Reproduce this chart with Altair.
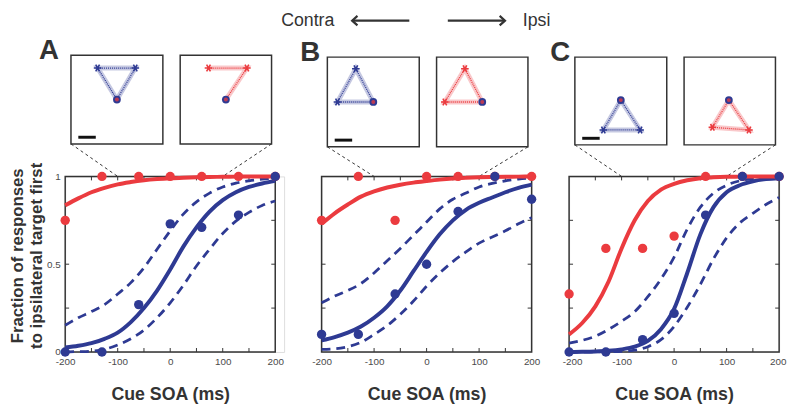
import altair as alt
import pandas as pd

# ---------------- data ----------------
SOA = [-200, -130, -60, 0, 60, 130, 200]
FIT_SOA = [-200, -175, -150, -125, -100, -75, -50, -25, 0, 25, 50, 75, 100, 125, 150, 175, 200]
X_TICKS = [-150, -100, -50, 0, 50, 100, 150]
Y_TICKS = [0.25, 0.5, 0.75]
X_LABELS = [-200, -100, 0, 100, 200]
Y_LABELS = [0, 0.5, 1]

A_RED_PTS = [0.75, 1, 1, 1, 1, 1, 1]
A_BLUE_PTS = [0, 0, 0.27, 0.73, 0.71, 0.78, 1]
A_RED_FIT = [0.835, 0.875, 0.91, 0.935, 0.955, 0.968, 0.978, 0.985, 0.99, 0.993, 0.995, 0.997, 0.998, 0.999, 1, 1, 1]
A_BLUE_FIT = [0.025, 0.035, 0.05, 0.075, 0.11, 0.17, 0.25, 0.35, 0.47, 0.60, 0.71, 0.80, 0.865, 0.91, 0.94, 0.96, 0.975]
A_BLUE_UP = [0.152, 0.195, 0.23, 0.27, 0.33, 0.395, 0.48, 0.585, 0.69, 0.785, 0.855, 0.905, 0.94, 0.962, 0.975, 0.984, 0.99]
A_BLUE_LO = [0.0, 0.002, 0.005, 0.015, 0.04, 0.075, 0.125, 0.195, 0.28, 0.38, 0.49, 0.585, 0.675, 0.745, 0.795, 0.835, 0.86]

B_RED_PTS = [0.75, 1, 0.75, 1, 1, 1, 1]
B_BLUE_PTS = [0.10, 0.10, 0.33, 0.50, 0.80, 1, 0.87]
B_RED_FIT = [0.73, 0.79, 0.84, 0.885, 0.915, 0.937, 0.953, 0.965, 0.974, 0.982, 0.988, 0.992, 0.995, 0.997, 0.998, 0.999, 1.0]
B_BLUE_FIT = [0.066, 0.085, 0.11, 0.145, 0.195, 0.26, 0.35, 0.46, 0.57, 0.67, 0.75, 0.81, 0.85, 0.88, 0.91, 0.935, 0.953]
B_BLUE_UP = [0.28, 0.318, 0.35, 0.39, 0.45, 0.52, 0.59, 0.665, 0.74, 0.815, 0.87, 0.905, 0.94, 0.96, 0.975, 0.985, 0.99]
B_BLUE_LO = [0.015, 0.018, 0.03, 0.055, 0.10, 0.15, 0.215, 0.29, 0.375, 0.45, 0.515, 0.57, 0.62, 0.655, 0.69, 0.73, 0.765]

C_RED_PTS = [0.33, 0.59, 0.59, 0.66, 1, 1, 1]
C_BLUE_PTS = [0, 0, 0.07, 0.22, 0.78, 1, 1]
C_RED_FIT = [0.10, 0.165, 0.26, 0.40, 0.59, 0.75, 0.86, 0.925, 0.958, 0.978, 0.99, 0.995, 0.998, 0.999, 1, 1, 1]
C_BLUE_FIT = [0.0, 0.001, 0.003, 0.007, 0.015, 0.03, 0.063, 0.13, 0.245, 0.45, 0.67, 0.825, 0.91, 0.95, 0.972, 0.985, 0.99]
C_BLUE_UP = [0.05, 0.066, 0.09, 0.128, 0.175, 0.23, 0.315, 0.415, 0.54, 0.70, 0.825, 0.905, 0.95, 0.975, 0.988, 0.995, 1.0]
C_BLUE_LO = [0.0, 0.0, 0.001, 0.002, 0.004, 0.01, 0.03, 0.07, 0.145, 0.255, 0.385, 0.53, 0.65, 0.735, 0.79, 0.84, 0.88]

# inset trajectories (relative coordinates inside each inset box; first point = start circle)
A_BLUE_U = [0.5, 0.29, 0.70, 0.5]
A_BLUE_V = [0.5, 0.855, 0.855, 0.5]
A_RED_U = [0.5, 0.73, 0.31]
A_RED_V = [0.5, 0.855, 0.855]
B_BLUE_U = [0.5, 0.31, 0.11, 0.5]
B_BLUE_V = [0.5, 0.87, 0.5, 0.5]
B_RED_U = [0.5, 0.31, 0.09, 0.5]
B_RED_V = [0.5, 0.87, 0.5, 0.5]
C_BLUE_U = [0.5, 0.71, 0.31, 0.5]
C_BLUE_V = [0.51, 0.17, 0.17, 0.51]
C_RED_U = [0.49, 0.71, 0.31, 0.49]
C_RED_V = [0.51, 0.17, 0.2, 0.51]
SCALE_BAR_U = [0.08, 0.27]
SCALE_BAR_V = 0.075

# inset placement: x in SOA units, y in px above the panel's top edge
INSET_X = [[-189, -14], [19, 193]]
ZOOM_X = [-100, 100]
A_INSET_Y = [33, 123]
B_INSET_Y = [30, 121]
C_INSET_Y = [32, 121]
TOP_PX = 167

RED = "#EB3B3F"
BLUE = "#2E3A93"
INK = "#333333"
LAB = "#4a4a4a"
W, H = 213, 178
STAR = "M-1,0L1,0M-0.5,-0.87L0.5,0.87M-0.5,0.87L0.5,-0.87"


def up(px):
    """px above the plot's top edge -> y data value"""
    return 1 + px / H


def panel(letter, lpos, inset_y, blue_u, blue_v, red_u, red_v,
          red_pts, blue_pts, red_fit, blue_fit, dash_up, dash_lo,
          show_y=False, extra_px=0, header=False, flush=False):
    xmax = 200 + extra_px * 400 / W
    width = W + extra_px
    xs = alt.Scale(domain=[-200, xmax], nice=False)
    ys = alt.Scale(domain=[0, 1], nice=False)
    ax_kw = dict(values=X_LABELS, labelExpr="'' + datum.value", ticks=False, domain=False, grid=False,
                 labelPadding=5, labelFontSize=10, labelColor=LAB, titleFontSize=18,
                 titleFontWeight="bold", titleColor=INK, titlePadding=19, titleX=W / 2)
    if flush:
        ax_kw.update(labelFlush=True, labelFlushOffset=7)
    else:
        ax_kw.update(labelFlush=False)
    X = alt.X("soa:Q", scale=xs, axis=alt.Axis(**ax_kw), title="Cue SOA (ms)")
    if show_y:
        y_axis = alt.Axis(values=Y_LABELS, labelExpr="'' + datum.value", ticks=False, domain=False,
                          grid=False, labelPadding=5, labelFontSize=10, labelColor=LAB,
                          titleFontSize=17, titleFontWeight="bold", titleColor=INK, titlePadding=1,
                          titleLineHeight=19, titleY=80)
        Y = alt.Y("p:Q", scale=ys, axis=y_axis,
                  title=["Fraction of responses", "to ipsilateral target first"])
    else:
        Y = alt.Y("p:Q", scale=ys, axis=None)
    col = alt.Color("c:N", scale=alt.Scale(domain=["blue", "red"], range=[BLUE, RED]), legend=None)

    # ---------- insets above the panel ----------
    y0, y1 = inset_y

    def place(us, vs, k):
        a, b = INSET_X[k]
        return [a + u * (b - a) for u in us], [up(y0 + v * (y1 - y0)) for v in vs]

    bx, by = place(blue_u, blue_v, 0)
    rx, ry = place(red_u, red_v, 1)
    paths = pd.DataFrame({"soa": bx + rx, "p": by + ry,
                          "i": list(range(len(bx))) + list(range(len(rx))),
                          "c": ["blue"] * len(bx) + ["red"] * len(rx)})
    stars = pd.DataFrame({"soa": bx[1:3] + rx[1:3], "p": by[1:3] + ry[1:3],
                          "c": ["blue"] * 2 + ["red"] * 2})
    starts = pd.DataFrame({"soa": [bx[0], rx[0]], "p": [by[0], ry[0]]})
    sbx, sby = place(SCALE_BAR_U, [SCALE_BAR_V] * 2, 0)
    bar = pd.DataFrame({"soa": [sbx[0]], "soa2": [sbx[1]], "p": [sby[0]]})
    boxes = pd.DataFrame({"soa": [INSET_X[0][0], INSET_X[1][0]], "soa2": [INSET_X[0][1], INSET_X[1][1]],
                          "p": [up(y0)] * 2, "p2": [up(y1)] * 2})
    conn = pd.DataFrame({"soa": [INSET_X[0][0], INSET_X[1][1]], "p": [up(y0)] * 2,
                         "soa2": ZOOM_X, "p2": [1, 1]})
    let = pd.DataFrame({"soa": [lpos[0]], "p": [up(lpos[1])], "t": [letter]})

    # ---------- panel frame, ticks, data ----------
    dx4 = 4 * 400 / W
    dy4 = 4 / H
    frame = pd.DataFrame({"soa": [-200], "soa2": [200], "p": [0], "p2": [1]})
    xt_top = pd.DataFrame({"soa": X_TICKS, "p": [1] * 7, "p2": [1 - dy4] * 7})
    xt_bot = pd.DataFrame({"soa": X_TICKS, "p": [0] * 7, "p2": [dy4] * 7})
    yt_l = pd.DataFrame({"p": Y_TICKS, "soa": [-200] * 3, "soa2": [-200 + dx4] * 3})
    yt_r = pd.DataFrame({"p": Y_TICKS, "soa": [200] * 3, "soa2": [200 - dx4] * 3})
    dashed = pd.DataFrame({"soa": FIT_SOA * 2, "p": dash_up + dash_lo, "k": ["up"] * 17 + ["lo"] * 17})
    bfit = pd.DataFrame({"soa": FIT_SOA, "p": blue_fit})
    rfit = pd.DataFrame({"soa": FIT_SOA, "p": red_fit})
    rp = pd.DataFrame({"soa": SOA, "p": red_pts})
    bp = pd.DataFrame({"soa": SOA, "p": blue_pts})

    layers = [
        alt.Chart(conn).mark_rule(strokeDash=[3, 3], strokeWidth=1, color=INK).encode(
            x=X, y=Y, x2="soa2:Q", y2="p2:Q"),
        alt.Chart(boxes).mark_rect(fill="white", stroke=INK, strokeWidth=1.5).encode(
            x=X, x2="soa2:Q", y=Y, y2="p2:Q"),
        alt.Chart(paths).mark_line(strokeWidth=5, opacity=0.28).encode(
            x=X, y=Y, color=col, detail="c:N", order="i:Q"),
        alt.Chart(paths).mark_line(strokeWidth=1.3, strokeDash=[1, 1]).encode(
            x=X, y=Y, color=col, detail="c:N", order="i:Q"),
        alt.Chart(stars).mark_point(shape=STAR, filled=False, strokeWidth=1.6, size=60, opacity=1).encode(
            x=X, y=Y, color=col),
        alt.Chart(starts).mark_circle(size=62, color=BLUE, opacity=1).encode(x=X, y=Y),
        alt.Chart(starts).mark_circle(size=16, color=RED, opacity=0.75).encode(x=X, y=Y),
        alt.Chart(bar).mark_rule(strokeWidth=3, color="#111111").encode(x=X, x2="soa2:Q", y=Y),
        alt.Chart(let).mark_text(fontSize=28, fontWeight="bold", color=INK, align="center",
                                 baseline="middle").encode(x=X, y=Y, text="t:N"),
        alt.Chart(frame).mark_rect(fillOpacity=0, stroke=INK, strokeWidth=1.5).encode(
            x=X, x2="soa2:Q", y=Y, y2="p2:Q"),
        alt.Chart(xt_top).mark_rule(color=INK, strokeWidth=1).encode(x=X, y=Y, y2="p2:Q"),
        alt.Chart(xt_bot).mark_rule(color=INK, strokeWidth=1).encode(x=X, y=Y, y2="p2:Q"),
        alt.Chart(yt_l).mark_rule(color=INK, strokeWidth=1).encode(x=X, x2="soa2:Q", y=Y),
        alt.Chart(yt_r).mark_rule(color=INK, strokeWidth=1).encode(x=X, x2="soa2:Q", y=Y),
        alt.Chart(dashed).mark_line(strokeDash=[9, 6], strokeWidth=2.8, color=BLUE,
                                    interpolate="monotone").encode(x=X, y=Y, detail="k:N"),
        alt.Chart(bfit).mark_line(strokeWidth=4, color=BLUE, interpolate="monotone").encode(x=X, y=Y),
        alt.Chart(rfit).mark_line(strokeWidth=4, color=RED, interpolate="monotone").encode(x=X, y=Y),
        alt.Chart(rp).mark_circle(size=90, color=RED, opacity=1).encode(x=X, y=Y),
        alt.Chart(bp).mark_circle(size=90, color=BLUE, opacity=1).encode(x=X, y=Y),
    ]
    if header:
        hy = up(TOP_PX)
        ay = up(TOP_PX - 9)
        contra = pd.DataFrame({"soa": [-175.6], "p": [hy], "t": ["Contra"]})
        ipsi = pd.DataFrame({"soa": [183.1], "p": [hy], "t": ["Ipsi"]})
        arrows = pd.DataFrame({"soa": [-141.8, 40.4], "soa2": [-32.9, 149.3], "p": [ay, ay]})
        head_l = pd.DataFrame({"soa": [-141.8], "p": [ay]})
        head_r = pd.DataFrame({"soa": [149.3], "p": [ay]})
        layers += [
            alt.Chart(contra).mark_text(fontSize=18, color=INK, align="right", baseline="top").encode(
                x=X, y=Y, text="t:N"),
            alt.Chart(ipsi).mark_text(fontSize=18, color=INK, align="left", baseline="top").encode(
                x=X, y=Y, text="t:N"),
            alt.Chart(arrows).mark_rule(strokeWidth=2.2, color=INK).encode(x=X, x2="soa2:Q", y=Y),
            alt.Chart(head_l).mark_point(shape="M0.9,-0.8L0,0L0.9,0.8", filled=False, strokeWidth=2.2,
                                         size=144, color=INK, opacity=1).encode(x=X, y=Y),
            alt.Chart(head_r).mark_point(shape="M-0.9,-0.8L0,0L-0.9,0.8", filled=False, strokeWidth=2.2,
                                         size=144, color=INK, opacity=1).encode(x=X, y=Y),
        ]
    return alt.layer(*layers).properties(width=width, height=H)


pA = panel("A", (-231, 127.5), A_INSET_Y, A_BLUE_U, A_BLUE_V, A_RED_U, A_RED_V,
           A_RED_PTS, A_BLUE_PTS, A_RED_FIT, A_BLUE_FIT, A_BLUE_UP, A_BLUE_LO,
           show_y=True, extra_px=9)
pB = panel("B", (-221.6, 125), B_INSET_Y, B_BLUE_U, B_BLUE_V, B_RED_U, B_RED_V,
           B_RED_PTS, B_BLUE_PTS, B_RED_FIT, B_BLUE_FIT, B_BLUE_UP, B_BLUE_LO, header=True)
pC = panel("C", (-216.9, 125), C_INSET_Y, C_BLUE_U, C_BLUE_V, C_RED_U, C_RED_V,
           C_RED_PTS, C_BLUE_PTS, C_RED_FIT, C_BLUE_FIT, C_BLUE_UP, C_BLUE_LO, flush=True)

chart = alt.hconcat(pA, pB, pC, spacing=38, bounds="flush").resolve_scale(
    x="independent", y="independent", color="independent"
).properties(
    padding={"left": 0, "top": 0, "right": 0, "bottom": 0}
).configure_view(stroke="transparent").configure(font="Liberation Sans")

chart.save("out.html", embed_options={"renderer": "svg", "actions": False})
